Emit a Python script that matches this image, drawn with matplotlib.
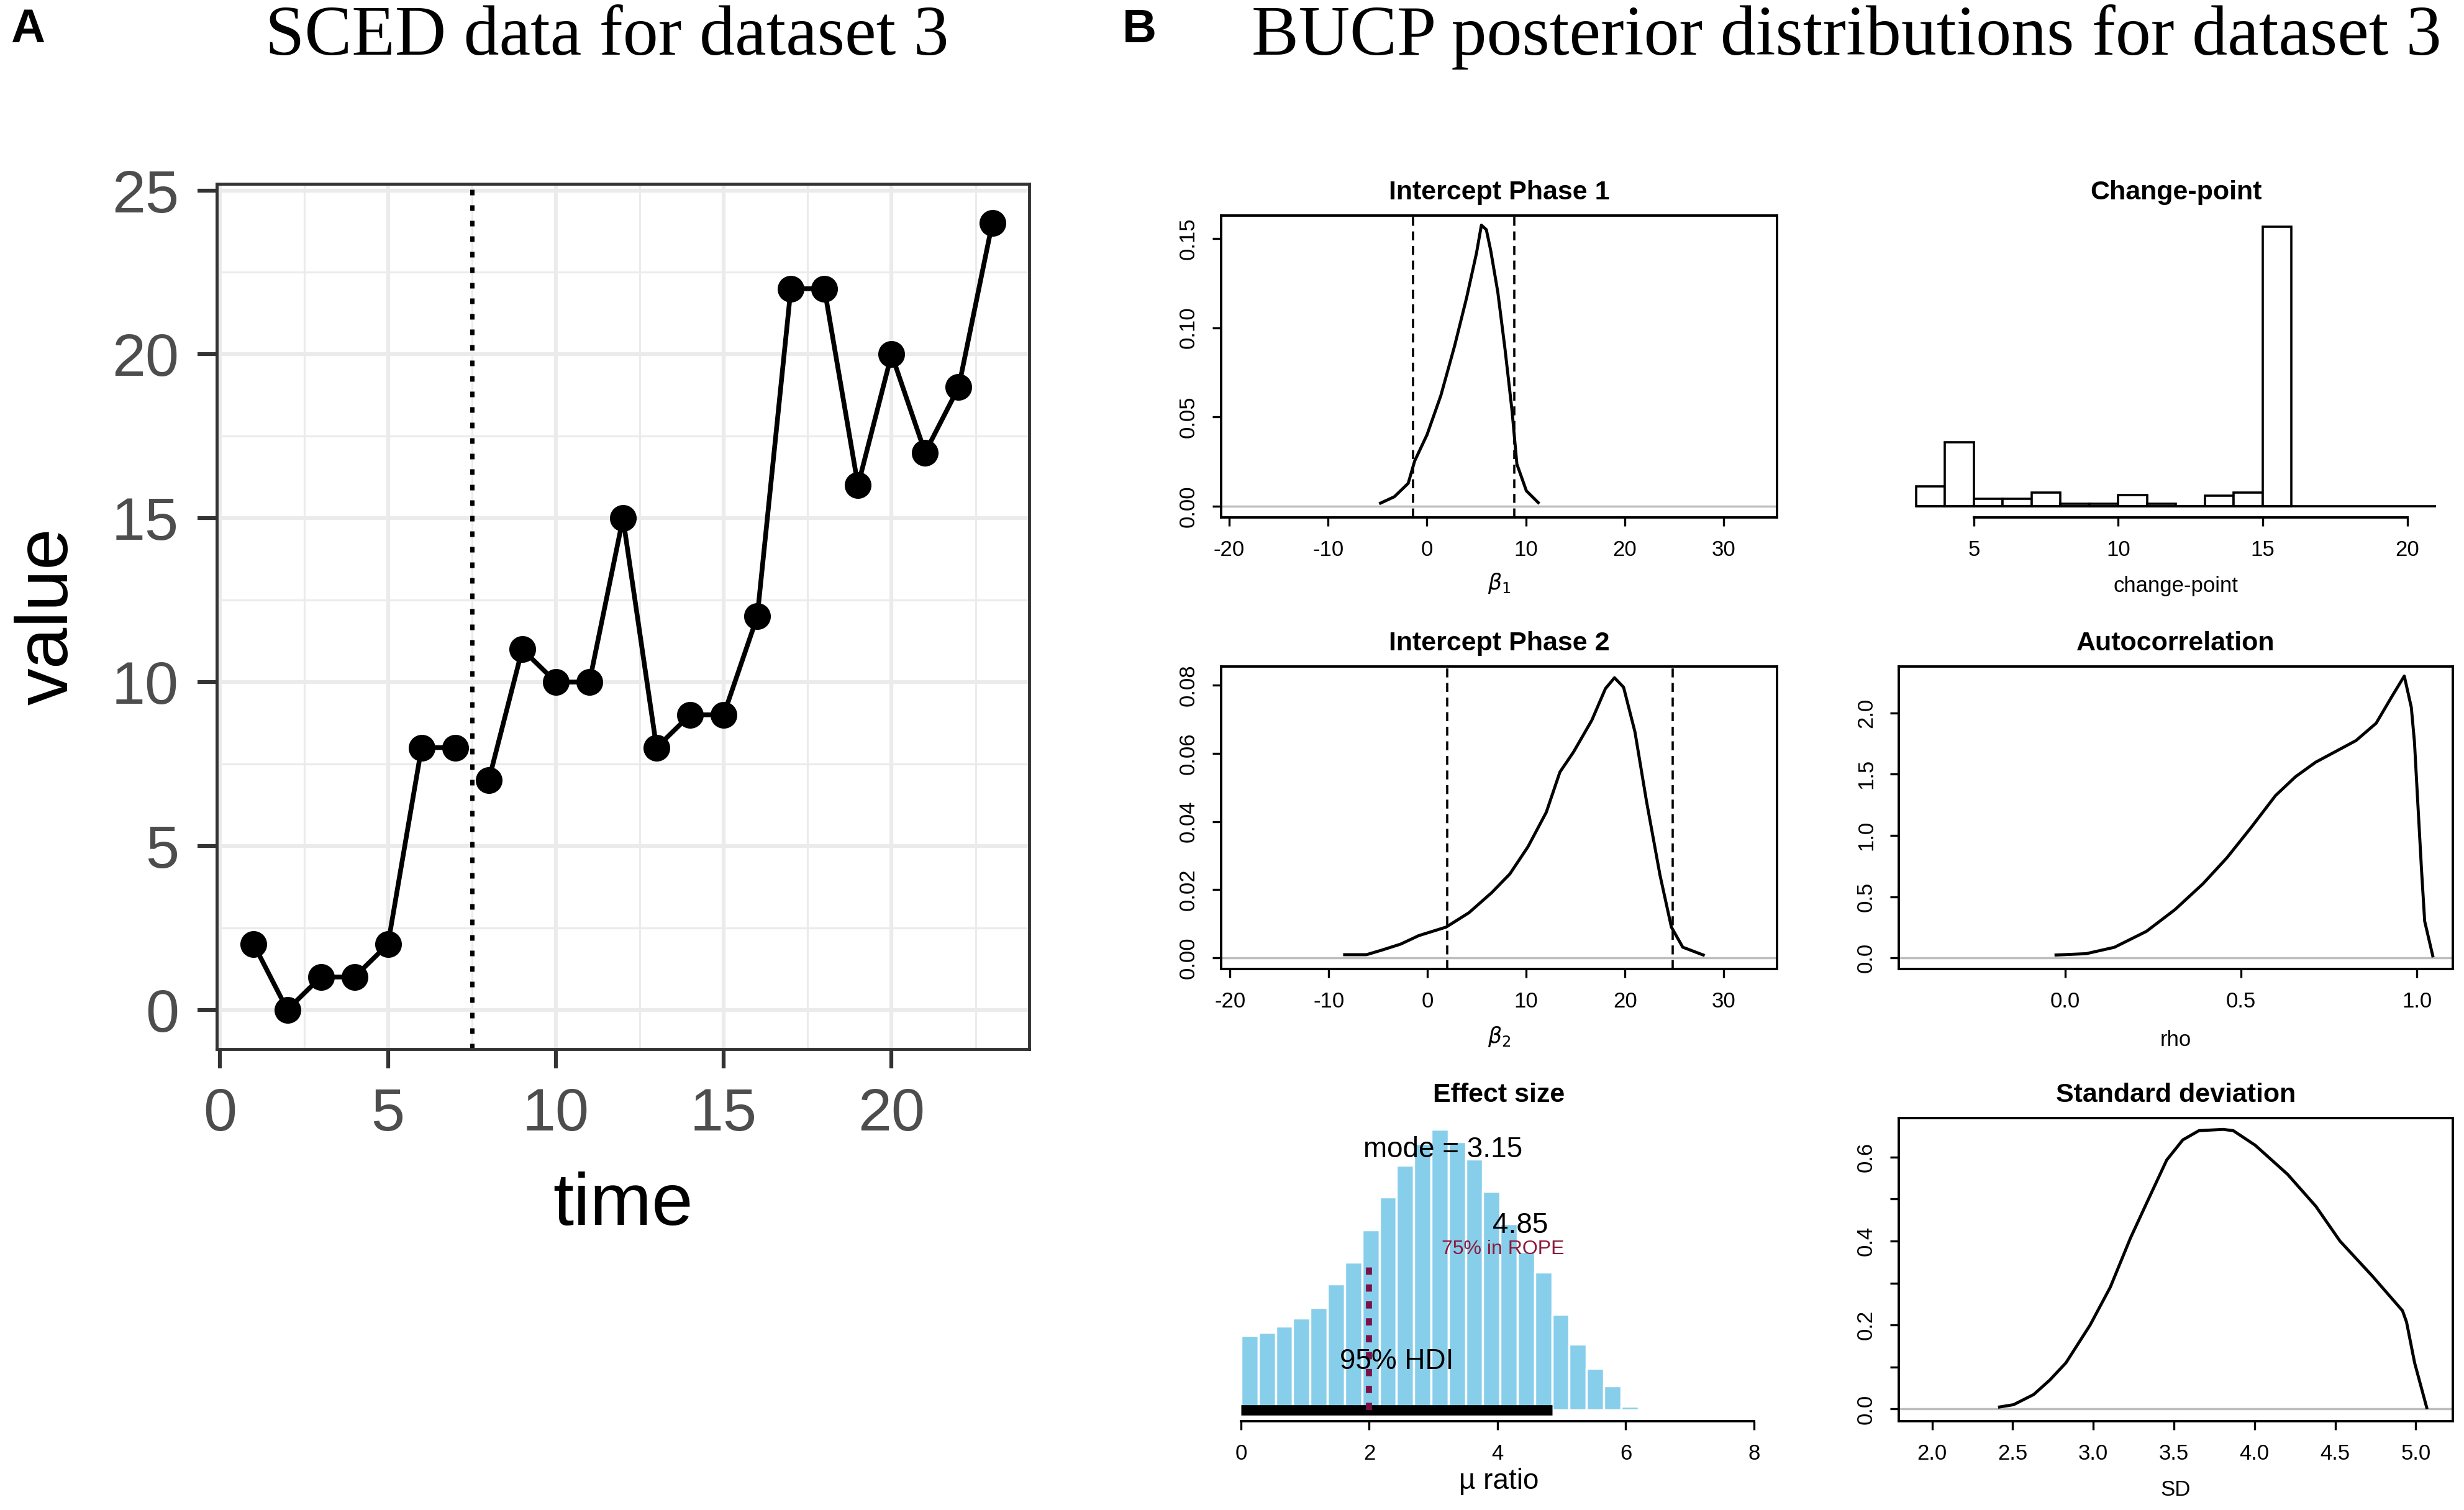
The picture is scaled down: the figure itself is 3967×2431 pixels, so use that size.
import numpy as np
import matplotlib.pyplot as plt
from matplotlib.ticker import MultipleLocator

# ---- panel A : SCED data ----
time = list(range(1, 24))
value = [2, 0, 1, 1, 2, 8, 8, 7, 11, 10, 10, 15, 8, 9, 9, 12, 22, 22, 16, 20, 17, 19, 24]
n_phase1 = 7
phase_change = 7.5

# ---- panel B : posterior curves ----
p1_x = [-4.7, -3.3, -1.9, -1.25, 0.0, 1.4, 2.8, 4.0, 5.0, 5.5, 6.0, 6.44, 7.16, 7.88, 8.6, 9.09, 10.05, 11.25]
p1_y = [0.0017, 0.0053, 0.0128, 0.0253, 0.040, 0.062, 0.090, 0.1167, 0.1417, 0.1575, 0.155, 0.1434, 0.120, 0.0885, 0.0535, 0.0236, 0.0086, 0.002]
p1_hdi = [-1.44, 8.80]

p2_x = [-8.39, -6.18, -4.56, -2.72, -0.88, 1.89, 4.19, 6.50, 8.34, 10.18, 12.03, 13.41, 14.79, 16.64, 18.02, 18.94, 19.86, 21.01, 22.17, 23.55, 24.70, 25.85, 27.93]
p2_y = [0.0009, 0.0009, 0.0023, 0.0040, 0.0065, 0.0090, 0.0132, 0.0191, 0.0246, 0.0326, 0.0427, 0.0545, 0.0604, 0.0697, 0.0790, 0.0822, 0.0794, 0.0663, 0.0461, 0.0242, 0.0090, 0.0031, 0.0008]
p2_hdi = [1.98, 24.84]

rho_x = [-0.026, 0.060, 0.140, 0.231, 0.312, 0.392, 0.460, 0.529, 0.598, 0.655, 0.712, 0.781, 0.827, 0.884, 0.930, 0.964, 0.984, 0.993, 1.001, 1.013, 1.022, 1.045]
rho_y = [0.024, 0.035, 0.087, 0.217, 0.394, 0.606, 0.818, 1.066, 1.325, 1.479, 1.597, 1.703, 1.774, 1.915, 2.139, 2.300, 2.045, 1.76, 1.34, 0.72, 0.30, 0.017]

sd_x = [2.418, 2.505, 2.63, 2.73, 2.83, 2.98, 3.105, 3.23, 3.33, 3.455, 3.555, 3.655, 3.805, 3.868, 4.005, 4.205, 4.38, 4.53, 4.73, 4.918, 4.943, 4.993, 5.068]
sd_y = [0.0048, 0.0103, 0.0345, 0.069, 0.110, 0.200, 0.290, 0.407, 0.490, 0.593, 0.641, 0.663, 0.666, 0.663, 0.628, 0.559, 0.483, 0.400, 0.317, 0.234, 0.207, 0.110, 0.0034]

cp_start = 3
cp_prop = [0.046, 0.146, 0.017, 0.017, 0.032, 0.006, 0.006, 0.026, 0.006, 0.0, 0.024, 0.032, 0.640]
cp_range = [3, 21]

es_dens = [0.083, 0.086, 0.093, 0.102, 0.114, 0.140, 0.164, 0.200, 0.237, 0.272, 0.296, 0.312,
           0.298, 0.279, 0.243, 0.207, 0.176, 0.153, 0.106, 0.073, 0.046, 0.027, 0.004]
es_hdi = [0.0, 4.85]
es_mode = 3.15
rope_x = 2.0
rope_pct = 75

W, H = 3967, 2431
fig = plt.figure(figsize=(W / 100, H / 100), dpi=100)


def fbox(left, top, right, bottom):
    return [left / W, 1 - bottom / H, (right - left) / W, (bottom - top) / H]


SANS = 'Liberation Sans'

# ---------------- panel A ----------------
ax = fig.add_axes(fbox(349, 296, 1657, 1689))
ax.set_xlim(-0.1, 24.1)
ax.set_ylim(-1.2, 25.2)
ax.set_xticks([0, 5, 10, 15, 20])
ax.set_yticks([0, 5, 10, 15, 20, 25])
ax.xaxis.set_minor_locator(MultipleLocator(2.5))
ax.yaxis.set_minor_locator(MultipleLocator(2.5))
ax.grid(which='major', color='#EBEBEB', lw=4.5)
ax.grid(which='minor', color='#EBEBEB', lw=2.3)
ax.set_axisbelow(True)
ax.tick_params(which='minor', length=0)
ax.tick_params(which='major', length=22, width=4.5, color='#333333', labelcolor='#4D4D4D',
               labelsize=70, pad=22)
for lab in ax.get_xticklabels() + ax.get_yticklabels():
    lab.set_family(SANS)
for s in ax.spines.values():
    s.set_color('#333333')
    s.set_linewidth(3.5)
ax.axvline(phase_change, color='black', lw=5, linestyle=(0, (1.3, 2.3)))
ax.plot(time[:n_phase1], value[:n_phase1], '-o', color='black', lw=5.5, ms=30)
ax.plot(time[n_phase1:], value[n_phase1:], '-o', color='black', lw=5.5, ms=30)
ax.set_xlabel('time', fontsize=86, family=SANS, va='center')
ax.set_ylabel('value', fontsize=86, family=SANS, va='center')
ax.xaxis.set_label_coords(0.5, -0.181)
ax.yaxis.set_label_coords(-0.207, 0.5)

# ---------------- panel B ----------------
cols = [(1966, 2861), (3057, 3949)]
rows = [(347, 833), (1073, 1560), (1800, 2288)]
TICK_FS = 25
TITLE_FS = 31


def r_axes(col, row):
    l, r = cols[col]
    t, b = rows[row]
    return fig.add_axes(fbox(l, t, r, b))


def r_style(ax, title, xlabel, xlabel_fs=TICK_FS, xlabel_off=108):
    ax.tick_params(direction='out', length=10, width=2.4, labelsize=TICK_FS, pad=16)
    for lab in ax.get_xticklabels() + ax.get_yticklabels():
        lab.set_family(SANS)
    for s in ax.spines.values():
        s.set_linewidth(2.8)
    h_px = ax.get_position().height * H
    ax.text(0.5, 1 + 37 / h_px, title, transform=ax.transAxes, ha='center', va='center',
            fontsize=TITLE_FS, weight='bold', family=SANS)
    ax.set_xlabel(xlabel, fontsize=xlabel_fs, family=SANS, va='center')
    ax.xaxis.set_label_coords(0.5, -xlabel_off / h_px)


def r_density(ax, x, y, hdi, xlim, ylim, xticks, xlabels, yticks, ylabels):
    ax.axhline(0, color='#BEBEBE', lw=2.5, zorder=1)
    ax.plot(x, y, color='black', lw=3.5, zorder=3, solid_joinstyle='round')
    if hdi is not None:
        for v in hdi:
            ax.axvline(v, color='black', lw=2.6, linestyle=(0, (4, 2.5)), zorder=2)
    ax.set_xlim(*xlim)
    ax.set_ylim(*ylim)
    ax.set_xticks(xticks)
    ax.set_xticklabels(xlabels)
    ax.set_yticks(yticks)
    ax.set_yticklabels(ylabels)
    ax.tick_params(axis='y', labelrotation=90)
    for lab in ax.get_yticklabels():
        lab.set_va('center')


# Intercept Phase 1
ax = r_axes(0, 0)
r_density(ax, p1_x, p1_y, p1_hdi, (-20.82, 35.4), (-0.0063, 0.1629),
          [-20, -10, 0, 10, 20, 30], ['-20', '-10', '0', '10', '20', '30'],
          [0, 0.05, 0.10, 0.15], ['0.00', '0.05', '0.10', '0.15'])
r_style(ax, 'Intercept Phase 1', r'$\beta_1$', xlabel_off=106)

# Intercept Phase 2
ax = r_axes(0, 1)
r_density(ax, p2_x, p2_y, p2_hdi, (-20.9, 35.4), (-0.0033, 0.0855),
          [-20, -10, 0, 10, 20, 30], ['-20', '-10', '0', '10', '20', '30'],
          [0, 0.02, 0.04, 0.06, 0.08], ['0.00', '0.02', '0.04', '0.06', '0.08'])
r_style(ax, 'Intercept Phase 2', r'$\beta_2$', xlabel_off=109)

# Autocorrelation
ax = r_axes(1, 1)
r_density(ax, rho_x, rho_y, None, (-0.473, 1.102), (-0.090, 2.378),
          [0, 0.5, 1.0], ['0.0', '0.5', '1.0'],
          [0, 0.5, 1.0, 1.5, 2.0], ['0.0', '0.5', '1.0', '1.5', '2.0'])
r_style(ax, 'Autocorrelation', 'rho', xlabel_off=114)

# Standard deviation
ax = r_axes(1, 2)
r_density(ax, sd_x, sd_y, None, (1.793, 5.23), (-0.029, 0.693),
          [2.0, 2.5, 3.0, 3.5, 4.0, 4.5, 5.0], ['2.0', '2.5', '3.0', '3.5', '4.0', '4.5', '5.0'],
          [0, 0.1, 0.2, 0.3, 0.4, 0.5, 0.6], ['0.0', '', '0.2', '', '0.4', '', '0.6'])
r_style(ax, 'Standard deviation', 'SD', xlabel_off=111)

# Change-point histogram
ax = r_axes(1, 0)
cp_edges = cp_start + np.arange(len(cp_prop))
ax.bar(cp_edges, cp_prop, width=1, align='edge', facecolor='white', edgecolor='black', lw=2.6, zorder=2)
ax.hlines(0, cp_range[0], cp_range[1], color='black', lw=2.6, zorder=3)
top = max(cp_prop)
ax.set_xlim(2.40, 21.58)
ax.set_ylim(-0.04 * top, 1.04 * top)
for s in ['left', 'top', 'right']:
    ax.spines[s].set_visible(False)
ax.spines['bottom'].set_bounds(5, 20)
ax.set_xticks([5, 10, 15, 20])
ax.set_yticks([])
r_style(ax, 'Change-point', 'change-point', xlabel_off=110)

# Effect size histogram
ax = r_axes(0, 2)
bw = (es_hdi[1] - es_hdi[0]) / 18
es_edges = es_hdi[0] + bw * np.arange(len(es_dens))
ax.bar(es_edges, es_dens, width=bw, align='edge', color='#87CEEB', edgecolor='white', lw=2.5, zorder=1)
top = max(es_dens)
ax.plot(es_hdi, [0, 0], color='black', lw=12, solid_capstyle='butt', zorder=3)
ax.plot([rope_x, rope_x], [0, 0.54 * top], color='#7A1045', lw=7,
        linestyle=(0, (1.2, 1.6)), zorder=4)
ax.text(es_mode, 0.9 * top, 'mode = %.2f' % es_mode, ha='center', va='baseline',
        fontsize=33, family=SANS, zorder=5)
ax.text(np.mean(es_hdi), 0.054, '95% HDI', ha='center', va='center', fontsize=33, family=SANS, zorder=5)
ax.text(4.36, 0.205, '%.2f' % es_hdi[1], ha='center', va='center', fontsize=33, family=SANS, zorder=5)
ax.text(4.09, 0.179, '%d%% in ROPE' % rope_pct, ha='center', va='center', fontsize=23,
        color='#8B1A3A', family=SANS, zorder=5)
ax.set_xlim(-0.31, 8.36)
ax.set_ylim(-0.04 * top, 1.04 * top)
for s in ['left', 'top', 'right']:
    ax.spines[s].set_visible(False)
ax.spines['bottom'].set_bounds(0, 8)
ax.set_xticks([0, 2, 4, 6, 8])
ax.set_yticks([])
r_style(ax, 'Effect size', 'µ ratio', xlabel_fs=33, xlabel_off=97)

# ---- headings ----
fig.text(17 / W, 1 - 48 / H, 'A', fontsize=55, weight='bold', family=SANS, ha='left', va='center')
fig.text(1807 / W, 1 - 48 / H, 'B', fontsize=55, weight='bold', family=SANS, ha='left', va='center')
fig.text(977 / W, 1 - 88 / H, 'SCED data for dataset 3', fontsize=82, family='Liberation Serif',
         ha='center', va='baseline')
fig.text(2973 / W, 1 - 88 / H, 'BUCP posterior distributions for dataset 3', fontsize=82,
         family='Liberation Serif', ha='center', va='baseline')

fig.savefig('out.png', dpi=100, facecolor='white')
